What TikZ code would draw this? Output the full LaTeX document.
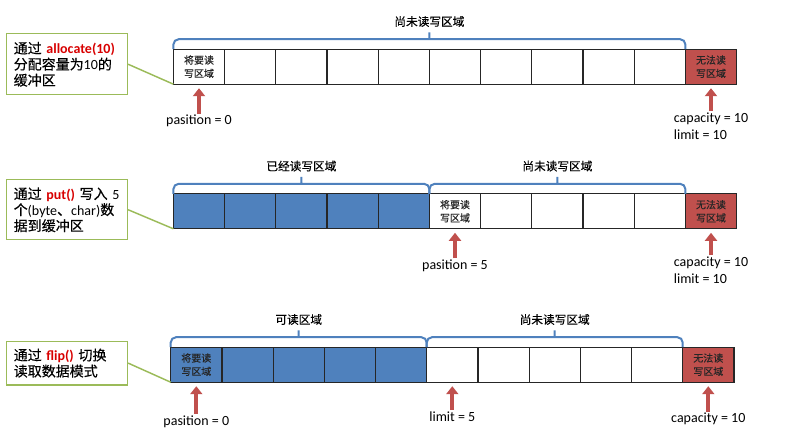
\documentclass[tikz,border=0pt]{standalone}
\usepackage{fontspec}
\setmainfont{Carlito}
\newfontfamily\cjk{Noto Sans CJK SC}[FakeBold=0.3]
\usetikzlibrary{positioning,calc,arrows.meta}

\definecolor{bufblue}{HTML}{4F81BD}
\definecolor{bufred}{HTML}{C0504D}
\definecolor{notegreen}{HTML}{9BBB59}
\definecolor{keyred}{HTML}{D80000}

\newcommand{\zh}[1]{{\cjk #1}}
% brace over cells #1 .. #2, tip coordinate #3, text #4
\newcommand{\areabrace}[4]{%
  \draw[brace] (#1.north west) |- ($(#1.north west)!.5!(#2.north east)+(-5,-10)$)
    .. controls ($(#1.north west)!.5!(#2.north east)+(0,-10)$) .. ($(#1.north west)!.5!(#2.north east)+(0,-20)$) coordinate (#3)
    .. controls ($(#1.north west)!.5!(#2.north east)+(0,-10)$) .. ($(#1.north west)!.5!(#2.north east)+(5,-10)$)
    -| (#2.north east);
  \node[arealabel] at (#3) {#4};
}

\begin{document}
\begin{tikzpicture}[
    x=0.75pt, y=-0.75pt,
    cell/.style={rectangle, draw=black!85, line width=0.9pt, minimum width=38.4pt, minimum height=26.25pt,
      inner sep=0pt, outer sep=0pt, align=center, font=\cjk\fontsize{7.5}{10}\selectfont, text=black!85},
    used/.style={cell, fill=bufblue},
    full/.style={cell, fill=bufred},
    note/.style={rectangle, draw=notegreen, line width=1.1pt, fill=white, anchor=north west, text width=80pt,
      inner xsep=5.25pt, align=left, font=\fontsize{10.5}{12}\selectfont},
    noteline/.style={draw=notegreen, line width=1.1pt},
    brace/.style={draw=bufblue, line width=1.5pt, rounded corners=4pt},
    arealabel/.style={anchor=south, inner sep=1.5pt, font=\cjk\fontsize{8.75}{10}\selectfont},
    marker/.style={font=\fontsize{10.5}{12.75}\selectfont, align=left, inner sep=1pt},
    ptr/.style={-{Triangle[width=9pt,length=6pt]}, draw=bufred, line width=3pt, shorten >=3pt}
]
\useasboundingbox (0,0) rectangle (798,442);

% ---- allocate(10)
\node[note, minimum height=45.75pt] (n1) at (6,33)
  {\zh{通过} {\bfseries\color{keyred}allocate(10)}\\ \zh{分配容量为}10\zh{的}\\ \zh{缓冲区}};
\node[cell] (a0) at (199,66.7) {将要读\\写区域};
\foreach \i in {1,...,9}
  \node[cell] (a\i) at (199+51.2*\i,66.7) {};
\node[full] (a10) at (711,66.7) {无法读\\写区域};
\draw[noteline] (n1.east) -- (a0.south west);
\areabrace{a0}{a9}{t1}{尚未读写区域}

\node[marker, below=22pt of a0] (p1) {pasition = 0};
\node[marker, below=20pt of a10] (c1) {capacity = 10\\limit = 10};
\draw[ptr] (p1) -- (a0);
\draw[ptr] (c1) -- (a10);

% ---- put()
\node[note, minimum height=45pt] (n2) at (6,179)
  {\zh{通过} {\bfseries\color{keyred}put()} \zh{写入} 5\\ \zh{个}(byte\zh{、}char)\zh{数}\\ \zh{据到缓冲区}};
\foreach \i in {0,...,4}
  \node[used] (b\i) at (199+51.2*\i,211.3) {};
\node[cell] (b5) at (455,211.3) {将要读\\写区域};
\foreach \i in {6,...,9}
  \node[cell] (b\i) at (199+51.2*\i,211.3) {};
\node[full] (b10) at (711,211.3) {无法读\\写区域};
\draw[noteline] (n2.east) -- (b0.south west);
\areabrace{b0}{b4}{t2}{已经读写区域}
\areabrace{b5}{b9}{t3}{尚未读写区域}

\node[marker, below=22pt of b5] (p2) {pasition = 5};
\node[marker, below=20pt of b10] (c2) {capacity = 10\\limit = 10};
\draw[ptr] (p2) -- (b5);
\draw[ptr] (c2) -- (b10);

% ---- flip()
\node[note, minimum height=32.5pt] (n3) at (6,340.7)
  {\zh{通过} {\bfseries\color{keyred}flip()} \zh{切换}\\ \zh{读取数据模式}};
\node[used] (c0) at (196.3,364.7) {将要读\\写区域};
\foreach \i in {1,...,4}
  \node[used] (c\i) at (196.3+51.2*\i,364.7) {};
\foreach \i in {5,...,9}
  \node[cell] (c\i) at (196.3+51.2*\i,364.7) {};
\node[full] (c10) at (708.3,364.7) {无法读\\写区域};
\draw[noteline] (n3.east) -- (c0.south west);
\areabrace{c0}{c4}{t4}{可读区域}
\areabrace{c5}{c9}{t5}{尚未读写区域}

\node[marker, below=24pt of c0] (p3) {pasition = 0};
\node[marker, below=21pt of c5] (l3) {limit = 5};
\node[marker, below=22pt of c10] (c3) {capacity = 10};
\draw[ptr] (p3) -- (c0);
\draw[ptr] (l3) -- (c5);
\draw[ptr] (c3) -- (c10);

\end{tikzpicture}
\end{document}
